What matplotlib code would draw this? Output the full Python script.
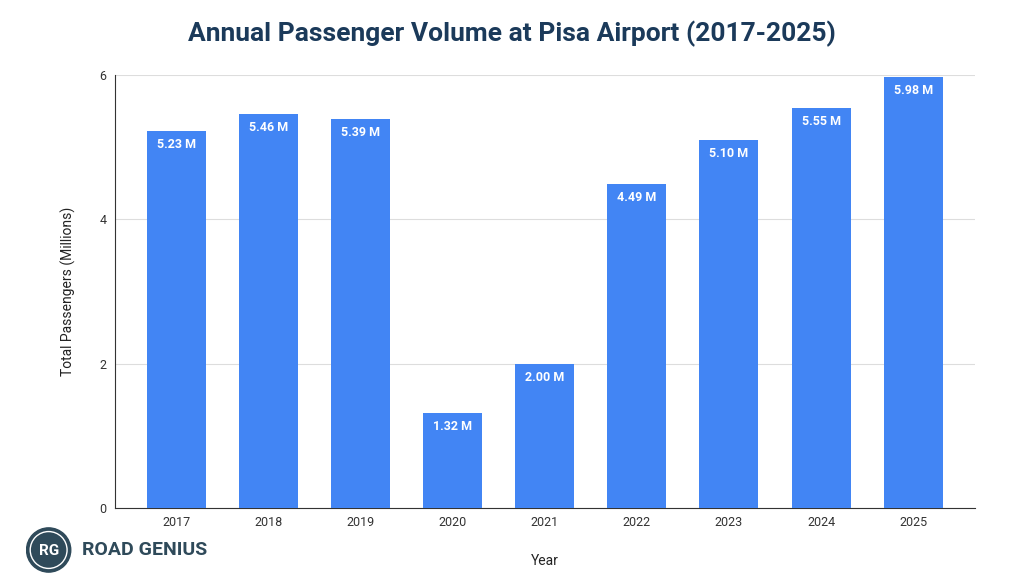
import matplotlib
matplotlib.use("Agg")
import matplotlib.pyplot as plt
from matplotlib.patches import Circle

years = ["2017", "2018", "2019", "2020", "2021", "2022", "2023", "2024", "2025"]
passengers = [5.23, 5.46, 5.39, 1.32, 2.00, 4.49, 5.10, 5.55, 5.98]
labels = ["5.23 M", "5.46 M", "5.39 M", "1.32 M", "2.00 M", "4.49 M", "5.10 M", "5.55 M", "5.98 M"]

plt.rcParams["font.family"] = ["Roboto", "DejaVu Sans"]

fig = plt.figure(figsize=(10.24, 5.82), dpi=100)
ax = fig.add_axes([0.112, 0.127, 0.840, 0.744])

x = range(len(years))
ax.bar(x, passengers, width=0.64, color="#4285F4", zorder=3)
for i, (v, lab) in enumerate(zip(passengers, labels)):
    ax.text(i, v - 0.1, lab, ha="center", va="top", color="white",
            fontsize=9, fontweight="bold", zorder=4)

ax.set_xlim(-0.67, len(years) - 0.33)
ax.set_ylim(0, 6)
ax.set_yticks([0, 2, 4, 6])
ax.set_xticks(list(x))
ax.set_xticklabels(years)
ax.tick_params(length=0, labelsize=9, colors="#333333", pad=6)
ax.grid(axis="y", color="#dddddd", linewidth=0.8, zorder=0)
for s in ["top", "right"]:
    ax.spines[s].set_visible(False)
ax.spines["left"].set_color("#333333")
ax.spines["bottom"].set_color("#333333")
ax.set_ylabel("Total Passengers (Millions)", fontsize=10, color="#222222", labelpad=17)
ax.set_xlabel("Year", fontsize=10, color="#222222", labelpad=18)

fig.suptitle("Annual Passenger Volume at Pisa Airport (2017-2025)", y=0.965,
             fontsize=19, fontweight="bold", color="#1b3a5a")

# logo
logo = fig.add_axes([0.025, 0.015, 0.045, 0.08])
logo.set_aspect("equal")
logo.axis("off")
logo.add_patch(Circle((0.5, 0.5), 0.48, color="#2f4a5a"))
logo.add_patch(Circle((0.5, 0.5), 0.40, fill=False, ec="white", lw=1))
logo.text(0.5, 0.48, "RG", ha="center", va="center", color="white",
          fontsize=11, fontweight="bold")
logo.set_xlim(0, 1)
logo.set_ylim(0, 1)
fig.text(0.08, 0.055, "ROAD GENIUS", fontsize=14, fontweight="bold",
         color="#2f4a5a", va="center")

fig.savefig("out.png", dpi=100)
